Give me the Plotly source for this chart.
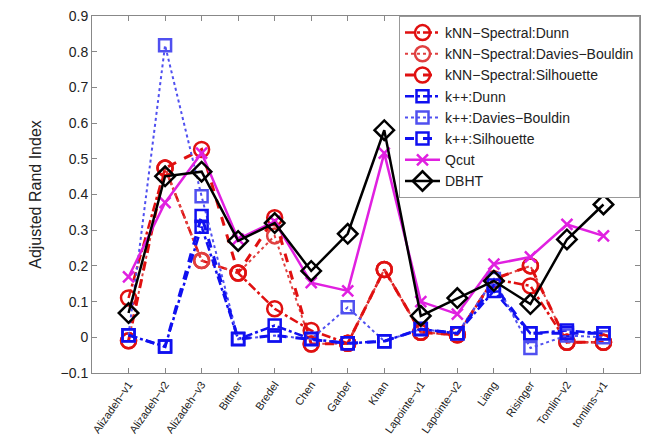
import plotly.graph_objects as go

categories = ["Alizadeh\u2212v1", "Alizadeh\u2212v2", "Alizadeh\u2212v3", "Bittner", "Bredel", "Chen",
              "Garber", "Khan", "Lapointe\u2212v1", "Lapointe\u2212v2", "Liang", "Risinger",
              "Tomlin\u2212v2", "tomlins\u2212v1"]

knn_dunn = [0.11, 0.474, 0.215, 0.18, 0.08, 0.019, -0.017, 0.19, 0.014, 0.007, 0.163, 0.144, -0.014, -0.014]
knn_db   = [-0.01, 0.474, 0.215, 0.18, 0.284, -0.019, -0.017, 0.19, 0.014, 0.007, 0.163, 0.2, -0.014, -0.014]
knn_sil  = [-0.01, 0.474, 0.526, 0.18, 0.335, -0.019, -0.017, 0.19, 0.014, 0.007, 0.163, 0.2, -0.014, -0.014]
kpp_dunn = [0.006, -0.026, 0.31, -0.005, 0.033, -0.005, -0.017, -0.011, 0.023, 0.011, 0.13, 0.011, 0.019, 0.011]
kpp_db   = [0.006, 0.818, 0.395, -0.005, 0.005, -0.005, 0.084, -0.011, 0.023, 0.011, 0.163, -0.03, 0.005, 0.0]
kpp_sil  = [0.006, -0.026, 0.34, -0.005, 0.005, -0.005, -0.017, -0.011, 0.023, 0.011, 0.145, 0.011, 0.012, 0.011]
qcut     = [0.169, 0.377, 0.516, 0.275, 0.325, 0.153, 0.13, 0.516, 0.10, 0.065, 0.205, 0.225, 0.316, 0.284]
dbht     = [0.068, 0.451, 0.464, 0.27, 0.32, 0.186, 0.29, 0.58, 0.06, 0.11, 0.158, 0.093, 0.274, 0.372]

RED = "#e01010"
BLUE = "#1010f0"
MAG = "#e020e0"

x = list(range(1, len(categories) + 1))

series = [
    ("kNN\u2212Spectral:Dunn", knn_dunn, RED, "dashdot", 2.5, "circle-open", 15),
    ("kNN\u2212Spectral:Davies\u2212Bouldin", knn_db, "#e04040", "dot", 2.0, "circle-open", 15),
    ("kNN\u2212Spectral:Silhouette", knn_sil, RED, "dash", 3.0, "circle-open", 15),
    ("k++:Dunn", kpp_dunn, BLUE, "dashdot", 2.5, "square-open", 12),
    ("k++:Davies\u2212Bouldin", kpp_db, "#5050f0", "dot", 2.0, "square-open", 12),
    ("k++:Silhouette", kpp_sil, BLUE, "dash", 3.0, "square-open", 12),
    ("Qcut", qcut, MAG, "solid", 2.5, "x-thin-open", 11),
    ("DBHT", dbht, "black", "solid", 2.5, "diamond-open", 15),
]

fig = go.Figure()
for name, vals, col, dash, w, sym, sz in series:
    fig.add_trace(go.Scatter(
        x=x, y=vals, name=name, mode="lines+markers",
        line=dict(color=col, dash=dash, width=w),
        marker=dict(symbol=sym, size=sz, color=col, line=dict(color=col, width=2.5)),
    ))

fig.update_layout(
    width=649, height=444,
    margin=dict(l=92, r=8, t=14, b=71),
    paper_bgcolor="white", plot_bgcolor="white",
    font=dict(family="Liberation Sans, Arial, sans-serif", size=14, color="#222"),
    showlegend=True,
    legend=dict(x=1, y=1, xanchor="right", yanchor="top",
                bordercolor="#999", borderwidth=1, bgcolor="white",
                font=dict(size=14), tracegroupgap=0, itemwidth=35),
)
fig.update_xaxes(
    range=[0, 15], tickvals=x, ticktext=categories, tickangle=-55,
    tickfont=dict(size=11), ticks="inside", ticklen=5, tickcolor="#888",
    showline=True, linecolor="#888", linewidth=1, mirror="ticks",
    showgrid=False, zeroline=False,
)
fig.update_yaxes(
    range=[-0.1, 0.9], dtick=0.1, tickformat="~g",
    ticks="inside", ticklen=5, tickcolor="#888",
    showline=True, linecolor="#888", linewidth=1, mirror="ticks",
    showgrid=False, zeroline=False,
    title=dict(text="Adjusted Rand Index", font=dict(size=16), standoff=14),
    tickfont=dict(size=14),
)

fig.write_html("out.html", config={"displayModeBar": False},
               post_script="document.body.style.margin='0';")
